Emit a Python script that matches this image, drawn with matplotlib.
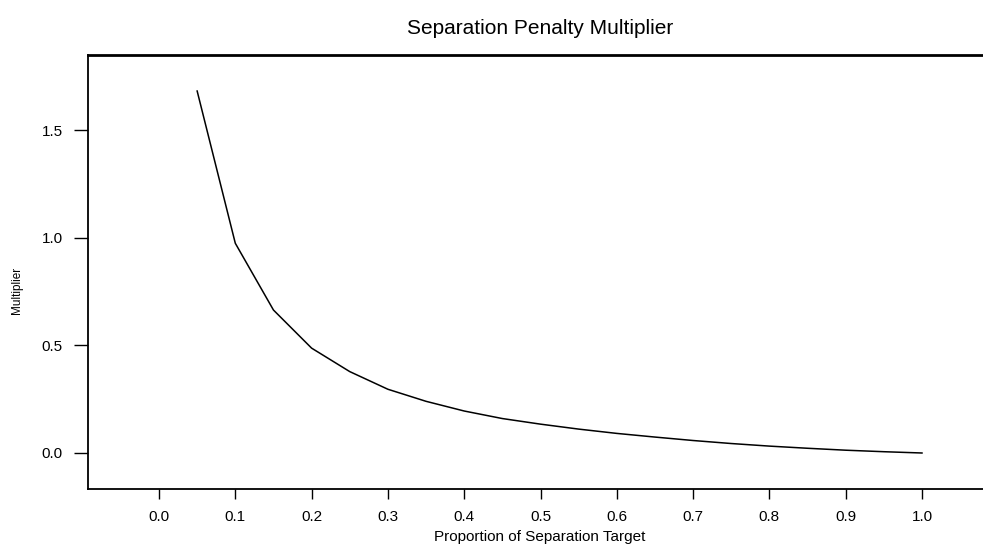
import matplotlib
matplotlib.use("Agg")
import matplotlib.pyplot as plt

proportion = [0.05, 0.10, 0.15, 0.20, 0.25, 0.30, 0.35, 0.40, 0.45, 0.50,
              0.55, 0.60, 0.65, 0.70, 0.75, 0.80, 0.85, 0.90, 0.95, 1.00]
multiplier = [1.681, 0.974, 0.664, 0.487, 0.378, 0.296, 0.240, 0.195, 0.160, 0.134,
              0.111, 0.091, 0.074, 0.058, 0.044, 0.032, 0.022, 0.013, 0.006, 0.0]
xticks = [0.0, 0.1, 0.2, 0.3, 0.4, 0.5, 0.6, 0.7, 0.8, 0.9, 1.0]
yticks = [0.0, 0.5, 1.0, 1.5]

plt.rcParams['font.family'] = ['Liberation Sans', 'DejaVu Sans']

W, H = 983, 548
fig = plt.figure(figsize=(W / 100, H / 100), dpi=100)
left, right, top, bottom = 88, 990, 55, 489
ax = fig.add_axes([left / W, 1 - bottom / H, (right - left) / W, (bottom - top) / H])

ax.plot(proportion, multiplier, color='black', lw=1.1)

# x: 0.0 -> px 159, 1.0 -> px 922
px_per_unit_x = (922 - 159) / 1.0
ax.set_xlim((left - 159) / px_per_unit_x, (right - 159) / px_per_unit_x)
px_per_unit_y = (453 - 130) / 1.5
ax.set_ylim(-(bottom - 453) / px_per_unit_y, (453 - top) / px_per_unit_y)

ax.set_xticks(xticks)
ax.set_xticklabels([f"{v:.1f}" for v in xticks])
ax.set_yticks(yticks)
ax.set_yticklabels([f"{v:.1f}" for v in yticks])

ax.spines['right'].set_visible(False)
ax.spines['top'].set_linewidth(2.0)
ax.spines['left'].set_linewidth(1.3)
ax.spines['bottom'].set_linewidth(1.3)
ax.tick_params(axis='x', direction='out', length=7, width=1, pad=8, labelsize=11)
ax.tick_params(axis='y', direction='out', length=10, width=1, pad=8, labelsize=11)

fig.text(540 / W, 1 - 29 / H, "Separation Penalty Multiplier", ha='center', va='center', fontsize=15)
fig.text(540 / W, 1 - 537 / H, "Proportion of Separation Target", ha='center', va='center', fontsize=11)
fig.text(17 / W, 1 - 290 / H, "Multiplier", ha='center', va='center', rotation=90, fontsize=8.5)

fig.savefig("out.png", dpi=100)
